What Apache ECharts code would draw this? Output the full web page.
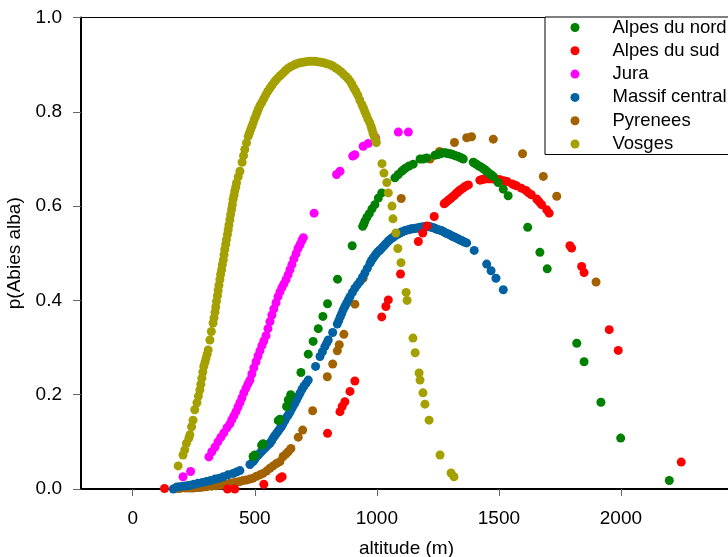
<!DOCTYPE html>
<html>
<head>
<meta charset="utf-8">
<script src="https://cdn.jsdelivr.net/npm/echarts@6/dist/echarts.min.js"></script>
<style>html,body{margin:0;padding:0;background:#fff;}#c{width:728px;height:557px;}</style>
</head>
<body>
<div id="c"></div>
<script>
const regions = ['Alpes du nord', 'Alpes du sud', 'Jura', 'Massif central', 'Pyrenees', 'Vosges'];
const xTickValues = [0, 500, 1000, 1500, 2000];

const alpesNord = [[493,0.069],[500,0.072],[528,0.093],[534,0.096],[596,0.145],[603,0.148],[630,0.175],[637,0.189],[647,0.2],[689,0.247],[719,0.286],[739,0.313],[760,0.34],[779,0.366],[798,0.393],[839,0.445],[899,0.516],[942,0.557],[947,0.562],[951,0.568],[959,0.576],[969,0.584],[980,0.594],[992,0.603],[1006,0.617],[1020,0.628],[1074,0.66],[1088,0.667],[1102,0.674],[1111,0.678],[1119,0.681],[1132,0.685],[1149,0.689],[1177,0.70],[1190,0.70],[1204,0.702],[1238,0.708],[1246,0.709],[1252,0.71],[1258,0.711],[1265,0.712],[1272,0.713],[1280,0.713],[1287,0.712],[1293,0.711],[1300,0.711],[1306,0.71],[1312,0.709],[1320,0.707],[1327,0.706],[1334,0.705],[1341,0.703],[1347,0.702],[1354,0.70],[1395,0.693],[1401,0.691],[1408,0.689],[1415,0.686],[1422,0.684],[1429,0.682],[1436,0.679],[1443,0.677],[1450,0.674],[1456,0.671],[1463,0.668],[1470,0.666],[1477,0.663],[1497,0.65],[1518,0.636],[1538,0.622],[1618,0.555],[1668,0.502],[1698,0.467],[1819,0.309],[1849,0.27],[1918,0.184],[1999,0.108],[2198,0.018]];

const alpesSud = [[130,0.001],[388,0.0],[418,0.0],[537,0.01],[603,0.023],[612,0.026],[798,0.118],[849,0.164],[858,0.175],[869,0.185],[890,0.207],[910,0.229],[1020,0.365],[1037,0.387],[1047,0.401],[1097,0.456],[1170,0.525],[1188,0.543],[1206,0.558],[1235,0.578],[1276,0.605],[1283,0.608],[1290,0.611],[1297,0.614],[1304,0.617],[1311,0.62],[1318,0.623],[1325,0.627],[1332,0.63],[1339,0.633],[1346,0.636],[1353,0.638],[1360,0.641],[1367,0.643],[1375,0.645],[1422,0.655],[1429,0.656],[1436,0.657],[1443,0.658],[1450,0.658],[1457,0.658],[1463,0.658],[1470,0.658],[1477,0.658],[1484,0.657],[1491,0.657],[1498,0.656],[1504,0.656],[1520,0.654],[1534,0.652],[1554,0.647],[1563,0.645],[1573,0.643],[1592,0.638],[1611,0.633],[1622,0.628],[1633,0.624],[1655,0.615],[1665,0.609],[1675,0.603],[1696,0.592],[1706,0.585],[1791,0.516],[1798,0.511],[1839,0.472],[1849,0.459],[1952,0.338],[1989,0.294],[2247,0.057]];

const jura = [[206,0.026],[237,0.037],[312,0.068],[324,0.079],[337,0.089],[349,0.100],[361,0.110],[373,0.119],[386,0.130],[398,0.138],[406,0.147],[414,0.155],[423,0.164],[431,0.174],[439,0.183],[447,0.193],[455,0.204],[464,0.214],[472,0.223],[480,0.231],[488,0.244],[496,0.257],[505,0.270],[513,0.282],[521,0.293],[529,0.304],[537,0.314],[546,0.325],[554,0.340],[562,0.355],[570,0.369],[578,0.382],[587,0.395],[595,0.408],[603,0.418],[611,0.427],[619,0.435],[628,0.444],[636,0.454],[644,0.465],[652,0.476],[660,0.488],[669,0.499],[677,0.510],[685,0.518],[693,0.527],[699,0.533],[743,0.585],[835,0.667],[849,0.674],[901,0.706],[910,0.709],[944,0.727],[965,0.733],[995,0.745],[1088,0.757],[1129,0.757]];

const massifCentral = [[166,0.0],[180,0.004],[192,0.005],[205,0.006],[220,0.007],[234,0.008],[250,0.01],[267,0.012],[285,0.014],[302,0.016],[319,0.018],[337,0.021],[354,0.023],[371,0.026],[390,0.03],[411,0.033],[425,0.036],[439,0.039],[480,0.052],[493,0.058],[500,0.063],[507,0.069],[514,0.072],[521,0.076],[528,0.08],[534,0.083],[541,0.087],[548,0.09],[555,0.094],[562,0.097],[569,0.102],[575,0.108],[582,0.113],[589,0.118],[596,0.123],[603,0.128],[610,0.133],[616,0.139],[623,0.145],[630,0.152],[637,0.157],[644,0.163],[651,0.17],[657,0.176],[664,0.182],[671,0.189],[678,0.196],[685,0.203],[693,0.211],[701,0.218],[710,0.224],[719,0.231],[749,0.26],[767,0.281],[777,0.291],[787,0.302],[795,0.31],[801,0.316],[819,0.332],[838,0.35],[844,0.357],[850,0.365],[856,0.372],[862,0.38],[869,0.387],[876,0.394],[883,0.401],[890,0.408],[900,0.417],[910,0.426],[920,0.433],[931,0.44],[941,0.449],[951,0.458],[961,0.468],[972,0.479],[978,0.485],[985,0.49],[992,0.495],[999,0.50],[1006,0.504],[1013,0.507],[1020,0.511],[1026,0.514],[1033,0.518],[1040,0.522],[1047,0.526],[1054,0.529],[1061,0.532],[1067,0.534],[1074,0.537],[1081,0.539],[1088,0.541],[1095,0.543],[1101,0.545],[1108,0.546],[1115,0.548],[1122,0.549],[1129,0.55],[1136,0.551],[1142,0.552],[1149,0.552],[1156,0.553],[1163,0.553],[1170,0.554],[1177,0.555],[1183,0.555],[1190,0.556],[1197,0.556],[1204,0.556],[1211,0.556],[1218,0.556],[1224,0.555],[1231,0.554],[1238,0.553],[1245,0.551],[1252,0.55],[1258,0.549],[1265,0.548],[1272,0.546],[1279,0.544],[1286,0.542],[1292,0.541],[1299,0.539],[1306,0.537],[1313,0.535],[1320,0.534],[1327,0.532],[1334,0.53],[1341,0.528],[1347,0.527],[1354,0.525],[1361,0.523],[1368,0.522],[1399,0.506],[1450,0.477],[1468,0.463],[1488,0.447],[1518,0.4225]];

const pyrenees = [[172,0.001],[189,0.001],[200,0.002],[218,0.002],[234,0.002],[247,0.002],[263,0.003],[275,0.003],[288,0.004],[304,0.005],[323,0.006],[341,0.007],[357,0.008],[369,0.009],[384,0.01],[398,0.012],[411,0.013],[425,0.015],[439,0.016],[452,0.018],[466,0.019],[480,0.021],[493,0.023],[507,0.027],[521,0.03],[534,0.033],[548,0.038],[562,0.044],[575,0.049],[589,0.054],[603,0.058],[616,0.069],[627,0.074],[637,0.079],[648,0.086],[678,0.11],[696,0.125],[737,0.166],[797,0.238],[819,0.265],[838,0.293],[846,0.306],[865,0.328],[910,0.392],[944,0.447],[1100,0.616],[1218,0.70],[1257,0.716],[1318,0.735],[1368,0.745],[1388,0.747],[1477,0.742],[1597,0.711],[1682,0.663],[1737,0.621],[1898,0.439]];

const vosges = [[186,0.049],[206,0.072],[213,0.083],[220,0.097],[230,0.108],[234,0.115],[241,0.132],[247,0.146],[254,0.168],[263,0.183],[269,0.197],[275,0.21],[279,0.222],[283,0.235],[287,0.248],[291,0.26],[296,0.269],[300,0.277],[305,0.286],[309,0.295],[316,0.316],[322,0.334],[329,0.352],[333,0.363],[337,0.375],[340,0.386],[343,0.398],[347,0.41],[350,0.421],[353,0.432],[357,0.444],[360,0.455],[364,0.465],[367,0.476],[371,0.486],[374,0.497],[377,0.508],[381,0.519],[384,0.529],[388,0.54],[391,0.55],[394,0.56],[398,0.571],[401,0.582],[405,0.593],[408,0.603],[411,0.614],[415,0.623],[418,0.632],[422,0.64],[425,0.649],[432,0.662],[439,0.674],[448,0.693],[454,0.707],[459,0.72],[466,0.734],[473,0.748],[478,0.755],[483,0.762],[488,0.769],[493,0.776],[498,0.784],[504,0.791],[509,0.798],[514,0.805],[521,0.813],[529,0.82],[537,0.828],[545,0.836],[553,0.843],[562,0.85],[570,0.856],[578,0.862],[586,0.867],[595,0.872],[605,0.877],[615,0.882],[625,0.887],[636,0.892],[648,0.896],[660,0.899],[672,0.902],[685,0.904],[697,0.905],[709,0.906],[722,0.907],[734,0.907],[746,0.907],[758,0.906],[771,0.905],[783,0.904],[795,0.902],[808,0.9],[820,0.897],[832,0.893],[843,0.889],[853,0.885],[863,0.88],[873,0.875],[882,0.87],[890,0.865],[898,0.858],[906,0.85],[914,0.843],[922,0.835],[930,0.825],[939,0.815],[945,0.808],[951,0.8],[957,0.793],[963,0.785],[970,0.778],[976,0.77],[980,0.763],[984,0.755],[988,0.75],[992,0.745],[995,0.74],[998,0.735],[1021,0.69],[1029,0.67],[1041,0.65],[1047,0.628],[1062,0.60],[1066,0.573],[1078,0.543],[1086,0.51],[1099,0.48],[1120,0.417],[1124,0.40],[1148,0.32],[1157,0.289],[1173,0.246],[1177,0.231],[1189,0.204],[1197,0.18],[1214,0.146],[1259,0.072],[1304,0.034],[1316,0.026]];

const seriesData = {
  'Alpes du nord': alpesNord,
  'Alpes du sud': alpesSud,
  'Jura': jura,
  'Massif central': massifCentral,
  'Pyrenees': pyrenees,
  'Vosges': vosges
};
const colors = {
  'Alpes du nord': '#008000',
  'Alpes du sud': '#FF0000',
  'Jura': '#FF00FF',
  'Massif central': '#0062A3',
  'Pyrenees': '#A26200',
  'Vosges': '#A3A000'
};
const drawOrder = ['Pyrenees', 'Massif central', 'Alpes du sud', 'Alpes du nord', 'Jura', 'Vosges'];
const FONT = 'Liberation Sans, Arial, Helvetica, sans-serif';

const chart = echarts.init(document.getElementById('c'), null, {renderer: 'canvas'});
chart.setOption({
  animation: false,
  backgroundColor: '#fff',
  grid: {
    left: 81, top: 17.5, width: 651, height: 471.5,
    show: true, borderColor: '#000', borderWidth: 1,
    outerBoundsMode: 'none'
  },
  xAxis: {
    type: 'value', min: -212, max: 2455,
    name: 'altitude (m)', nameLocation: 'middle', nameGap: 50,
    nameTextStyle: {fontSize: 19, fontFamily: FONT, color: '#000'},
    axisLine: {show: true, onZero: false, lineStyle: {color: '#000', width: 2}},
    axisTick: {show: true, length: 7, customValues: xTickValues, lineStyle: {color: '#666', width: 1}},
    axisLabel: {customValues: xTickValues, fontSize: 19, fontFamily: FONT, color: '#000', margin: 20,
      formatter: v => String(v)},
    splitLine: {show: false}
  },
  yAxis: {
    type: 'value', min: 0, max: 1, interval: 0.2,
    name: 'p(Abies alba)', nameLocation: 'middle', nameGap: 49, nameRotate: 90,
    nameTextStyle: {fontSize: 19, fontFamily: FONT, color: '#000'},
    axisLine: {show: true, onZero: false, lineStyle: {color: '#000', width: 2}},
    axisTick: {show: true, length: 8, lineStyle: {color: '#666', width: 1}},
    axisLabel: {fontSize: 19, fontFamily: FONT, color: '#000', margin: 19,
      formatter: v => v.toFixed(1)},
    splitLine: {show: false}
  },
  legend: {
    data: regions,
    orient: 'vertical', left: 545, top: 17,
    icon: 'circle', itemWidth: 9, itemHeight: 9, itemGap: 4.3,
    padding: [1, 5, 1, 25.5],
    borderColor: '#000', borderWidth: 1, backgroundColor: '#fff',
    textStyle: {fontSize: 18.5, fontFamily: FONT, color: '#000', lineHeight: 19, padding: [0, 0, 0, 28]},
    selectedMode: false
  },
  series: drawOrder.map(name => ({
    name: name,
    type: 'scatter',
    data: seriesData[name],
    symbol: 'circle',
    symbolSize: 9,
    silent: true,
    itemStyle: {color: colors[name], opacity: 1}
  }))
});
</script>
</body>
</html>
